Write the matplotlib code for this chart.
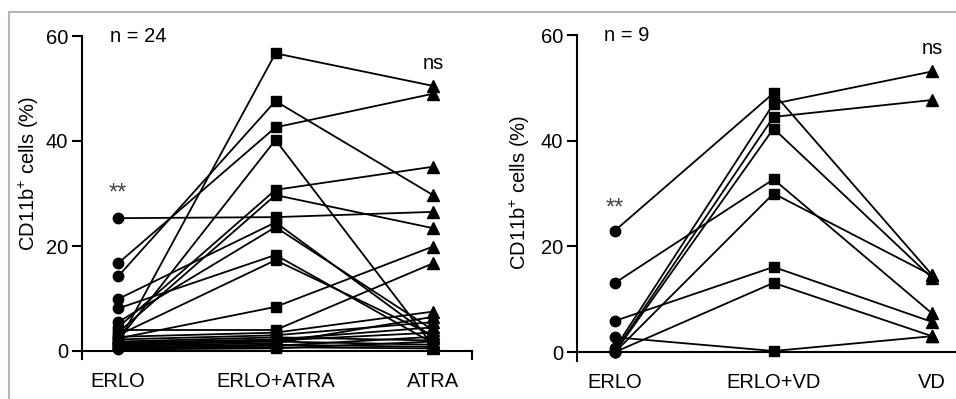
import numpy as np
import matplotlib
matplotlib.use("Agg")
import matplotlib.pyplot as plt
from matplotlib.patches import Rectangle

plt.rcParams['font.family'] = ['Liberation Sans', 'DejaVu Sans']
plt.rcParams['mathtext.fontset'] = 'custom'
plt.rcParams['mathtext.rm'] = 'Liberation Sans'
plt.rcParams['mathtext.it'] = 'Liberation Sans'

FS = 14.5

# left panel: ERLO / ERLO+ATRA / ATRA, n = 24
atra_groups = ['ERLO', 'ERLO+ATRA', 'ATRA']
atra_erlo = [25.3, 16.7, 14.2, 9.9, 8.1, 1.5, 2.0, 4.5, 3.5, 5.5, 3.0, 2.4,
             4.0, 2.7, 2.2, 1.8, 1.6, 1.4, 1.2, 1.0, 0.8, 0.6, 0.5, 0.3]
atra_combo = [25.5, 42.6, 47.6, 24.5, 18.3, 56.7, 40.2, 30.7, 29.7, 23.6, 17.3, 8.4,
              4.0, 3.5, 3.0, 2.6, 2.2, 2.0, 1.8, 1.5, 1.2, 1.0, 0.7, 0.5]
atra_only = [26.5, 49.0, 29.7, 2.5, 1.5, 50.5, 1.0, 35.1, 23.4, 4.0, 3.0, 19.9,
             16.7, 7.5, 5.5, 2.0, 4.5, 3.5, 1.2, 6.5, 0.8, 2.7, 0.5, 1.8]

# right panel: ERLO / ERLO+VD / VD, n = 9
vd_groups = ['ERLO', 'ERLO+VD', 'VD']
vd_erlo = [23.0, 13.1, 5.9, 2.8, 0.7, 0.2, 0.0, 0.0, 0.0]
vd_combo = [49.0, 32.7, 16.1, 0.2, 47.0, 44.5, 42.3, 30.0, 13.1]
vd_only = [14.6, 7.3, 5.7, 3.0, 53.1, 47.7, 14.0, 14.5, 3.0]

W, H = 956, 399
fig = plt.figure(figsize=(W / 100, H / 100), dpi=100)

# light grey frame around the figure
fig.add_artist(Rectangle((9 / W, -0.1), 1.2, 1 - 12 / H + 0.1, transform=fig.transFigure,
                         fill=False, edgecolor='#b5b5b5', linewidth=1.5))

def px_axes(left, right, top, bottom):
    return fig.add_axes([left / W, 1 - bottom / H, (right - left) / W, (bottom - top) / H])

def panel(ax, groups, a, b, c, xlim, n_text, n_x, star_y, ns_y, label_xy, end_tick):
    x = np.arange(3)
    for i in range(len(a)):
        ax.plot(x, [a[i], b[i], c[i]], color='black', lw=1.3, zorder=2)
    ax.plot(np.zeros(len(a)), a, 'o', color='black', ms=7.5, zorder=3)
    ax.plot(np.ones(len(b)), b, 's', color='black', ms=7.4, zorder=3)
    ax.plot(np.full(len(c), 2), c, '^', color='black', ms=8, zorder=3)
    ax.set_xlim(*xlim)
    ax.set_ylim(-1.6, 60)
    ax.spines['top'].set_visible(False)
    ax.spines['right'].set_visible(False)
    ax.spines['bottom'].set_position(('data', 0))
    ax.spines['left'].set_linewidth(1.5)
    ax.spines['bottom'].set_linewidth(1.5)
    ax.set_yticks([0, 20, 40, 60])
    ax.tick_params(axis='y', length=7, width=1.5, labelsize=FS, pad=3)
    ax.set_xticks(x)
    ax.set_xticklabels(groups)
    ax.tick_params(axis='x', length=0, labelsize=FS, pad=15)
    ax.set_ylabel('CD11b$^{+}$ cells (%)', fontsize=FS)
    ax.yaxis.set_label_coords(*label_xy)
    ax.text(n_x, 60, n_text, fontsize=FS, va='center', ha='left')
    ax.text(0, star_y, '**', fontsize=17, ha='center', va='center', color='#444444')
    ax.text(2, ns_y, 'ns', fontsize=FS, ha='center', va='center')
    if end_tick:
        ax.plot([xlim[1], xlim[1]], [0, -1.6], color='black', lw=1.5, clip_on=False)
    ax.patch.set_alpha(0)

ax1 = px_axes(82, 472, 36, 359.4)
panel(ax1, atra_groups, atra_erlo, atra_combo, atra_only, (-0.229, 2.248),
      'n = 24', -0.05, 30.0, 54.8, (-0.104, 0.575), True)

ax2 = px_axes(577, 956, 35, 360.5)
panel(ax2, vd_groups, vd_erlo, vd_combo, vd_only, (-0.24, 2.151),
      'n = 9', -0.07, 27.2, 57.5, (-0.12, 0.515), False)

fig.savefig('out.png', dpi=100)
